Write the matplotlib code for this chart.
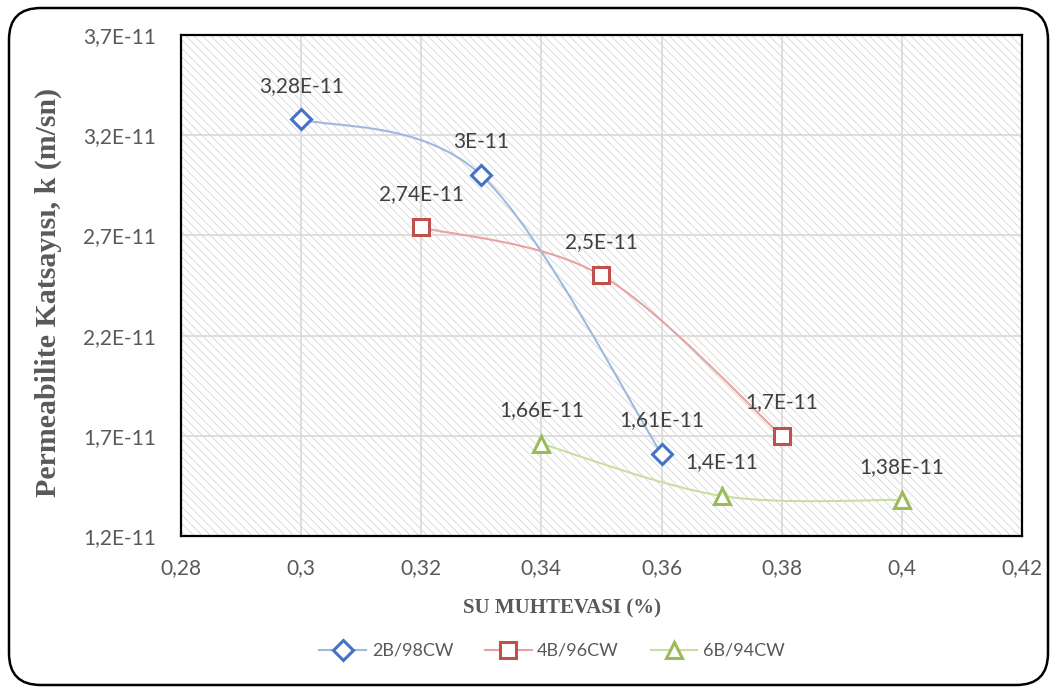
import numpy as np
import matplotlib
matplotlib.use("Agg")
import matplotlib.pyplot as plt
from matplotlib.path import Path
from matplotlib.patches import PathPatch, Rectangle, FancyBboxPatch
from matplotlib.lines import Line2D

# su muhtevasi (x) and permeabilite (k) for each mix
x_2b = [0.30, 0.33, 0.36]
k_2b = [3.28e-11, 3.00e-11, 1.61e-11]
x_4b = [0.32, 0.35, 0.38]
k_4b = [2.74e-11, 2.50e-11, 1.70e-11]
x_6b = [0.34, 0.37, 0.40]
k_6b = [1.66e-11, 1.40e-11, 1.38e-11]
names = ["2B/98CW", "4B/96CW", "6B/94CW"]

x_ticks = [0.28, 0.30, 0.32, 0.34, 0.36, 0.38, 0.40, 0.42]
x_ticklabels = ["0,28", "0,3", "0,32", "0,34", "0,36", "0,38", "0,4", "0,42"]
y_ticks = [1.2e-11, 1.7e-11, 2.2e-11, 2.7e-11, 3.2e-11, 3.7e-11]
y_ticklabels = ["1,2E-11", "1,7E-11", "2,2E-11", "2,7E-11", "3,2E-11", "3,7E-11"]

FONT = "Lato"
TXT = "#404040"


def excel_label(v):
    # 3.28e-11 -> "3,28E-11"
    m = round(v / 1e-11, 2)
    s = ("%.2f" % m).rstrip("0").rstrip(".")
    return s.replace(".", ",") + "E-11"


def smooth_path(xs, ys):
    # excel-like smoothed line: cubic bezier through the points
    pts = np.column_stack([xs, ys])
    n = len(pts)
    verts = [pts[0]]
    codes = [Path.MOVETO]
    for i in range(n - 1):
        p0 = pts[max(i - 1, 0)]
        p1 = pts[i]
        p2 = pts[i + 1]
        p3 = pts[min(i + 2, n - 1)]
        c1 = p1 + (p2 - p0) / 6.0
        c2 = p2 - (p3 - p1) / 6.0
        verts += [c1, c2, p2]
        codes += [Path.CURVE4] * 3
    return Path(verts, codes)


plt.rcParams["hatch.linewidth"] = 0.5

fig = plt.figure(figsize=(10.57, 6.94), dpi=100)
ax = fig.add_axes([181 / 1057, 1 - 536 / 694, 841 / 1057, 501 / 694])
ax.set_facecolor("none")

bg = Rectangle((0, 0), 1, 1, transform=ax.transAxes, facecolor="white",
               edgecolor="#cfcfcf", hatch="\\" * 4, linewidth=0, zorder=0)
ax.add_patch(bg)

series = [
    (x_2b, k_2b, "#4472c4", "#9fb8e0", "D", 10),
    (x_4b, k_4b, "#c0504d", "#e6a3a2", "s", 11),
    (x_6b, k_6b, "#9bbb59", "#cadda6", "^", 12),
]

handles = []
for (xs, ys, mc, lc, mk, ms), nm in zip(series, names):
    ax.add_patch(PathPatch(smooth_path(xs, ys), facecolor="none", edgecolor=lc,
                           linewidth=1.5, zorder=3))
    ax.plot(xs, ys, linestyle="none", marker=mk, markersize=ms,
            markerfacecolor="white", markeredgecolor=mc, markeredgewidth=2.2,
            zorder=4)
    for x, y in zip(xs, ys):
        ax.annotate(excel_label(y), (x, y), xytext=(0, 24), textcoords="offset points",
                    ha="center", va="center", fontsize=15, color=TXT,
                    family=FONT, zorder=5)
    handles.append(Line2D([], [], color=lc, linewidth=1.5, marker=mk, markersize=ms,
                          markerfacecolor="white", markeredgecolor=mc,
                          markeredgewidth=2.2))

ax.set_xlim(0.28, 0.42)
ax.set_ylim(1.2e-11, 3.7e-11)
ax.set_xticks(x_ticks)
ax.set_xticklabels(x_ticklabels)
ax.set_yticks(y_ticks)
ax.set_yticklabels(y_ticklabels)
ax.tick_params(axis="both", length=0, labelsize=15, labelcolor="#595959")
ax.tick_params(axis="x", pad=16)
ax.tick_params(axis="y", pad=18)
for lab in ax.get_xticklabels() + ax.get_yticklabels():
    lab.set_family(FONT)

ax.grid(True, color="#d9d9d9", linewidth=1.2)
ax.set_axisbelow(False)
for g in ax.get_xgridlines() + ax.get_ygridlines():
    g.set_zorder(1)
for sp in ax.spines.values():
    sp.set_color("black")
    sp.set_linewidth(1.6)
    sp.set_zorder(6)

fig.text(48 / 1057, 1 - 292 / 694, "Permeabilite Katsayısı, k (m/sn)", rotation=90,
         ha="center", va="center", fontsize=21.5, fontweight="bold",
         family="Liberation Serif", color="#595959")
fig.text(562 / 1057, 1 - 608 / 694, "SU MUHTEVASI (%)", ha="center", va="center",
         fontsize=15, fontweight="bold", family="Liberation Serif", color="#595959")

leg = fig.legend(handles, names, loc="center", bbox_to_anchor=(552 / 1057, 1 - 651 / 694),
                 ncol=3, frameon=False, handlelength=2.6, columnspacing=1.75,
                 handletextpad=0.3, prop={"family": FONT, "size": 13})
for t in leg.get_texts():
    t.set_color("#595959")

# rounded outer border of the chart
fig.patches.append(FancyBboxPatch((9 / 1057, 9 / 694), 1039 / 1057, 677 / 694,
                                  boxstyle="round,pad=0,rounding_size=0.03",
                                  transform=fig.transFigure, facecolor="none",
                                  edgecolor="black", linewidth=1.8,
                                  mutation_aspect=1057 / 694))

fig.savefig("out.png", dpi=100)
